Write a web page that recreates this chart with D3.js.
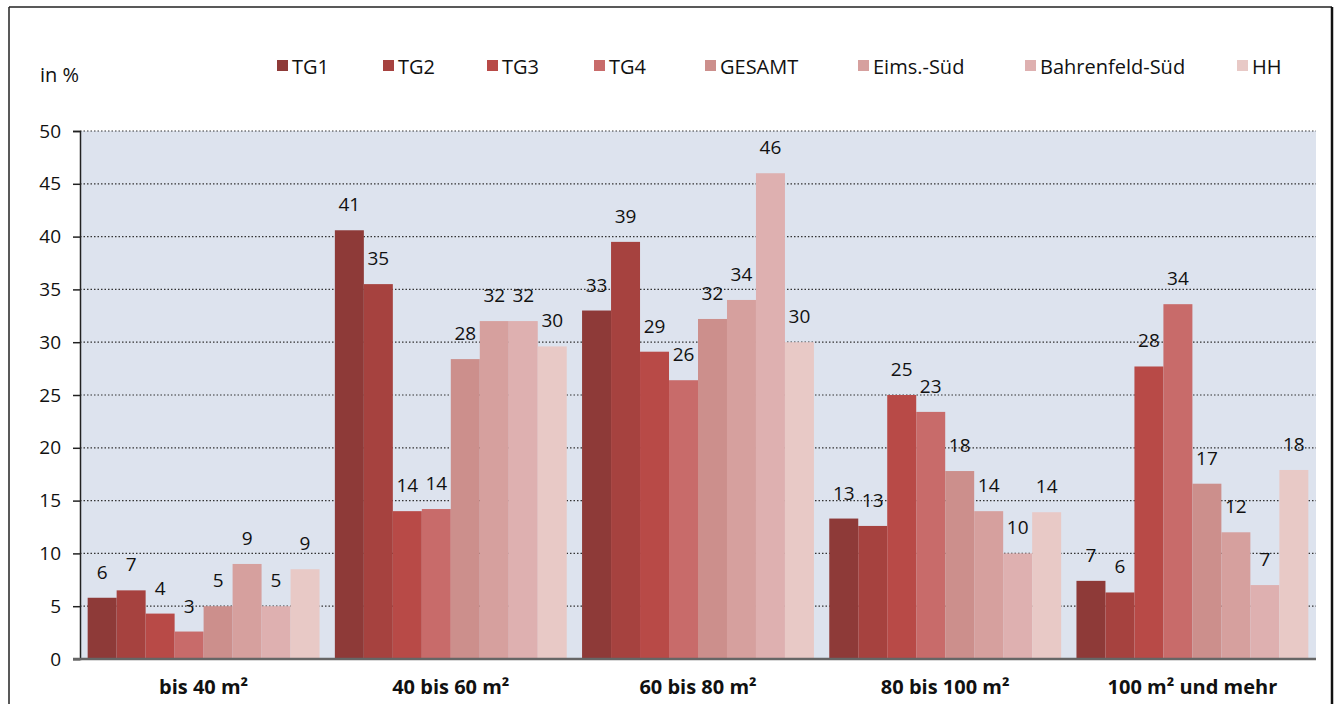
<!DOCTYPE html>
<html><head><meta charset="utf-8">
<script src="https://cdn.jsdelivr.net/npm/d3@7"></script>
<style>body{margin:0;background:#fff;} text{font-family:"Open Sans","Noto Sans",sans-serif;}</style>
</head><body>
<svg id="c" width="1335" height="704"></svg>
<script>
const categories = ["bis 40 m²", "40 bis 60 m²", "60 bis 80 m²", "80 bis 100 m²", "100 m² und mehr"];
const seriesNames = ["TG1", "TG2", "TG3", "TG4", "GESAMT", "Eims.-Süd", "Bahrenfeld-Süd", "HH"];
const TG1 = [5.8, 40.6, 33.0, 13.3, 7.4];
const TG2 = [6.5, 35.5, 39.5, 12.6, 6.3];
const TG3 = [4.3, 14.0, 29.1, 25.0, 27.7];
const TG4 = [2.6, 14.2, 26.4, 23.4, 33.6];
const GESAMT = [5.0, 28.4, 32.2, 17.8, 16.6];
const EIMS = [9.0, 32.0, 34.0, 14.0, 12.0];
const BAHR = [5.0, 32.0, 46.0, 10.0, 7.0];
const HH = [8.5, 29.6, 30.0, 13.9, 17.9];
const labels = [
  [6, 41, 33, 13, 7],
  [7, 35, 39, 13, 6],
  [4, 14, 29, 25, 28],
  [3, 14, 26, 23, 34],
  [5, 28, 32, 18, 17],
  [9, 32, 34, 14, 12],
  [5, 32, 46, 10, 7],
  [9, 30, 30, 14, 18]
];
const yTicks = [0, 5, 10, 15, 20, 25, 30, 35, 40, 45, 50];
const colors = ["#8e3a38", "#a6423f", "#b84a47", "#c86b6a", "#cc8f8c", "#d6a09e", "#deb0b0", "#e8c9c6"];
const seriesVals = [TG1, TG2, TG3, TG4, GESAMT, EIMS, BAHR, HH];

const svg = d3.select("#c");
const L = 80, R = 1316, T = 131, B = 659;
const FF = "Open Sans, Noto Sans, sans-serif";

// outer frame
svg.append("line").attr("x1", 9).attr("y1", 7).attr("x2", 1332).attr("y2", 7).attr("stroke", "#222").attr("stroke-width", 1.5);
svg.append("line").attr("x1", 9).attr("y1", 7).attr("x2", 9).attr("y2", 704).attr("stroke", "#222").attr("stroke-width", 1.5);
svg.append("line").attr("x1", 1332).attr("y1", 7).attr("x2", 1332).attr("y2", 704).attr("stroke", "#111").attr("stroke-width", 2.5);

const x0 = d3.scaleBand().domain(categories).range([L, R]).paddingInner(0.062).paddingOuter(0.031);
const x1 = d3.scaleBand().domain(seriesNames).range([0, x0.bandwidth()]).padding(0);
const y = d3.scaleLinear().domain([0, 50]).range([B, T]);

svg.append("rect").attr("x", L).attr("y", T).attr("width", R - L).attr("height", B - T).attr("fill", "#dde3ee");

// gridlines
svg.append("g").selectAll("line").data(yTicks.filter(d => d > 0)).join("line")
  .attr("x1", L).attr("x2", R).attr("y1", d => y(d)).attr("y2", d => y(d))
  .attr("stroke", "#333").attr("stroke-width", 1.2).attr("stroke-dasharray", "1.5,2");

// bars
const g = svg.append("g");
categories.forEach((c, ci) => {
  seriesNames.forEach((s, si) => {
    const v = seriesVals[si][ci];
    g.append("rect").attr("x", x0(c) + x1(s)).attr("y", y(v))
      .attr("width", x1.bandwidth()).attr("height", y(0) - y(v)).attr("fill", colors[si]);
    g.append("text").attr("x", x0(c) + x1(s) + x1.bandwidth() / 2).attr("y", y(v) - 26)
      .attr("text-anchor", "middle").attr("dominant-baseline", "central")
      .attr("font-size", 19).attr("fill", "#111").text(labels[si][ci]);
  });
});

// y axis
const ya = svg.append("g").attr("transform", `translate(${L},0)`)
  .call(d3.axisLeft(y).tickValues(yTicks).tickSize(7).tickPadding(12));
ya.select(".domain").attr("stroke", "#222").attr("stroke-width", 1.5);
ya.selectAll(".tick line").attr("stroke", "#222").attr("stroke-width", 1.5);
ya.selectAll(".tick text").attr("font-size", 19).attr("fill", "#111").attr("font-family", FF);

// x axis
const xa = svg.append("g").attr("transform", `translate(0,${B})`)
  .call(d3.axisBottom(x0).tickSize(0).tickPadding(21));
xa.select(".domain").remove();
svg.append("line").attr("x1", 73).attr("x2", R).attr("y1", B).attr("y2", B).attr("stroke", "#666").attr("stroke-width", 2.5);
xa.selectAll(".tick text").attr("font-size", 20).attr("font-weight", "bold").attr("fill", "#111").attr("font-family", FF);

// unit label
svg.append("text").attr("x", 40).attr("y", 74).attr("dominant-baseline", "central")
  .attr("font-size", 20).attr("fill", "#111").text("in %");

// legend
const legX = [277, 383, 487, 594, 705, 858, 1025, 1237];
const lg = svg.append("g");
seriesNames.forEach((s, i) => {
  lg.append("rect").attr("x", legX[i]).attr("y", 60).attr("width", 11).attr("height", 11).attr("fill", colors[i]);
  lg.append("text").attr("x", legX[i] + 15).attr("y", 66).attr("dominant-baseline", "central")
    .attr("font-size", 20).attr("fill", "#111").text(s);
});
</script>
</body></html>
